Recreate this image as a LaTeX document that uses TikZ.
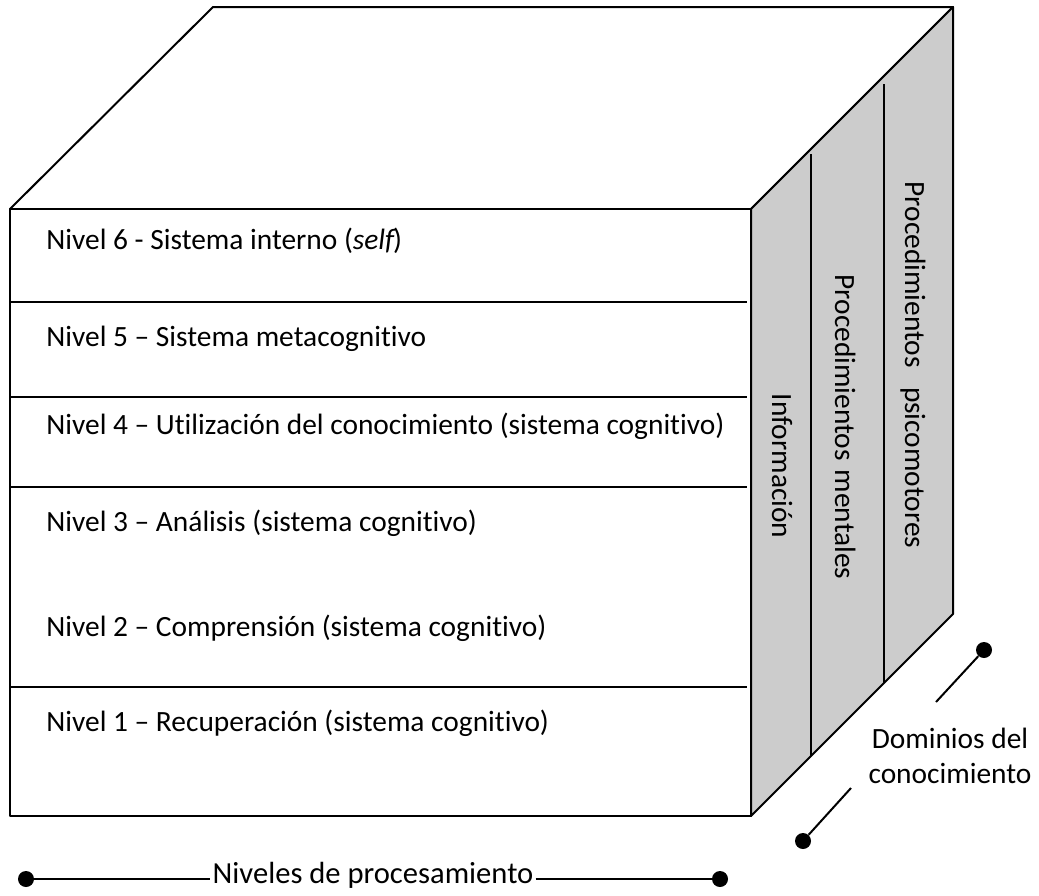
\documentclass[tikz,border=0pt]{standalone}
\usepackage{fontspec}
\setmainfont{Carlito}[Ligatures = NoCommon]
\usetikzlibrary{positioning}
\begin{document}
\begin{tikzpicture}[x = 0.5pt, y = -0.5pt]
	\tikzstyle{FaceStyle} = [draw, line width = 1pt, line join = round]
	\tikzstyle{EdgeStyle} = [line width = 1pt]
	\tikzstyle{LevelStyle} = [anchor = mid west, inner sep = 0pt, font = \fontsize{14.7}{17.5}\selectfont]
	\tikzstyle{DomainStyle} = [anchor = mid, rotate = -90, inner sep = 0pt, font = \fontsize{14.7}{17.5}\selectfont]
	\tikzstyle{DotStyle} = [shape = circle, minimum size = 8pt, inner sep = 0pt, fill]
	\useasboundingbox (0, 0) rectangle (1039, 895);
	\draw[FaceStyle, fill = white] (10, 209) -- (213, 7) -- (953, 7) -- (751, 209) -- cycle;
	\draw[FaceStyle, fill = black!20] (751, 209) -- (953, 7) -- (953, 614) -- (751, 816) -- cycle;
	\draw[FaceStyle, fill = white] (10, 209) rectangle (751, 816);
	\draw[EdgeStyle] (10, 302) -- (747, 302);
	\draw[EdgeStyle] (10, 397) -- (747, 397);
	\draw[EdgeStyle] (10, 487) -- (747, 487);
	\draw[EdgeStyle] (10, 687) -- (747, 687);
	\draw[EdgeStyle] (811, 154) -- (811, 756);
	\draw[EdgeStyle] (884, 84) -- (884, 683);
	\node[LevelStyle] (n6) at (46, 245) {Nivel 6 - Sistema interno (\textit{self}\kern-1.2pt)};
	\node[LevelStyle] (n5) at (46, 342) {Nivel 5 – Sistema metacognitivo};
	\node[LevelStyle] (n4) at (46, 430) {Nivel 4 – Utilización del conocimiento (sistema cognitivo)};
	\node[LevelStyle] (n3) at (46, 527) {Nivel 3 – Análisis (sistema cognitivo)};
	\node[LevelStyle] (n2) at (46, 632) {Nivel 2 – Comprensión (sistema cognitivo)};
	\node[LevelStyle] (n1) at (46, 727) {Nivel 1 – Recuperación (sistema cognitivo)};
	\node[DomainStyle] (d1) at (777, 466) {Información};
	\node[DomainStyle] (d2) at (840, 427) {Procedimientos\hspace{0.3em}mentales};
	\node[DomainStyle] (d3) at (910, 365) {Procedimientos\hspace{0.65em}psicomotores};
	\node[DotStyle] (p0) at (26, 879) {};
	\node[DotStyle] (p1) at (720, 879) {};
	\node[LevelStyle, anchor = mid, inner xsep = 1pt, font = \fontsize{15.3}{18}\selectfont] (niv) at (373, 879) {Niveles de procesamiento};
	\draw[EdgeStyle] (p0) -- (niv.mid west);
	\draw[EdgeStyle] (niv.mid east) -- (p1);
	\node[DotStyle] (q0) at (984, 650) {};
	\node[DotStyle] (q1) at (803, 841) {};
	\coordinate (q0end) at (936, 702);
	\coordinate (q1end) at (851, 788);
	\draw[EdgeStyle] (q0) -- (q0end);
	\draw[EdgeStyle] (q1) -- (q1end);
	\node[align = center, inner sep = 0pt, font = \fontsize{14.7}{17.5}\selectfont] (dom) at (950, 756) {Dominios del\\conocimiento};
\end{tikzpicture}
\end{document}
